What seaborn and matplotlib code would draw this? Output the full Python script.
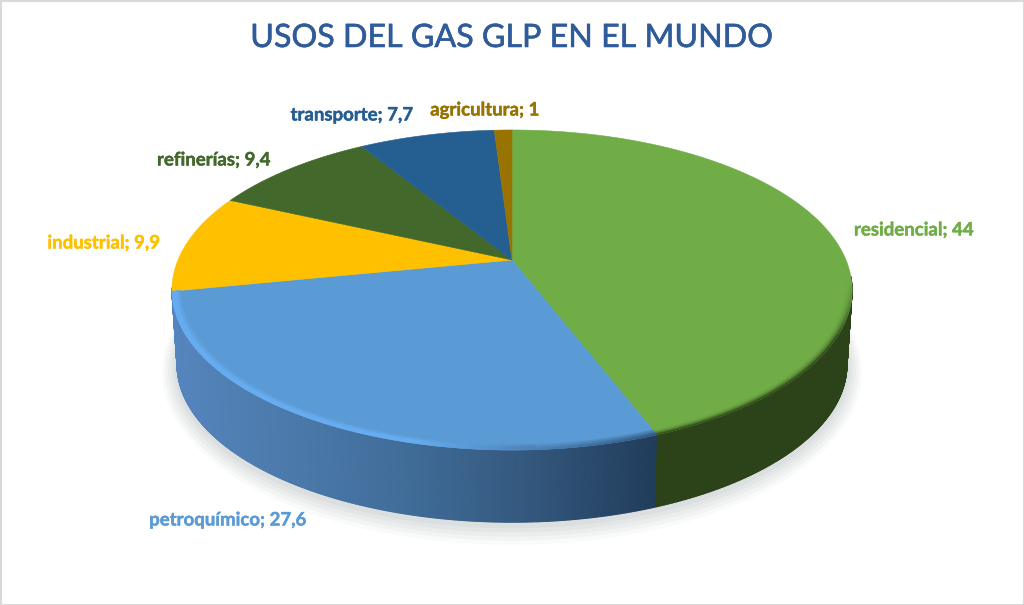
import numpy as np
import matplotlib
matplotlib.use("Agg")
import matplotlib.pyplot as plt
import matplotlib.patheffects as pe
from matplotlib.collections import PolyCollection
from matplotlib.colors import to_rgb
from matplotlib.patches import Rectangle
import seaborn as sns

title = "USOS DEL GAS GLP EN EL MUNDO"
categories = ["residencial", "petroquímico", "industrial", "refinerías", "transporte", "agricultura"]
values = [44, 27.6, 9.9, 9.4, 7.7, 1]
colors = ["#70ad47", "#5b9bd5", "#ffc000", "#43682b", "#255e91", "#997300"]

sns.set_theme(style="white")
plt.rcParams["font.family"] = ["Lato", "DejaVu Sans"]
palette = sns.color_palette(colors)

# Layout of the perspective disc, in figure pixels
CX, CY = 512, 260
BX, AY, K = 334.0, 154.4, 0.1875
DEPTH, BOTTOM_SCALE = 75, 0.985
label_xy = [(914, 230), (228, 520), (104, 243), (214, 160), (352, 115), (485, 110)]

fig = plt.figure(figsize=(10.24, 6.05), dpi=100, facecolor="white")
ax = fig.add_axes([0, 0, 1, 1])
ax.set_xlim(0, 1024)
ax.set_ylim(605, 0)
ax.axis("off")


def top(t, r=1.0):
    t = np.radians(t)
    u, v = r * np.sin(t), r * np.cos(t)
    w = 1 + K * v
    return CX + BX * u / w, CY - AY * v / w


def bottom(t):
    x, y = top(t)
    return CX + (x - CX) * BOTTOM_SCALE, CY + DEPTH + (y - CY) * BOTTOM_SCALE


frac = np.array(values) / np.sum(values)
edges = np.concatenate([[0], np.cumsum(frac)]) * 360
RES_END, PET_END = edges[1], edges[2]
tt = np.linspace(0, 360, 721)

# soft shadow under the disc
bx, by = bottom(tt)
for grow, alpha in [(15, .07), (12, .09), (9, .11), (6, .13), (3, .15)]:
    sx = CX + (bx - CX) * (1 + grow / 335)
    sy = (CY + DEPTH - 33) + (by - (CY + DEPTH - 33)) * (1 + grow / 160) + 2
    ax.fill(sx, sy, color="#b4bcbc", alpha=alpha, lw=0, zorder=1)

# side wall
wall_x = [172, 300, 400, 520, 652]
wall_c = ["#5585bd", "#4a78a8", "#406d9a", "#35597f", "#213d5c"]
wall_rgb = np.array([to_rgb(c) for c in wall_c])
ts = np.linspace(96, 260, 500)
polys, cols = [], []
for a, b in zip(ts[:-1], ts[1:]):
    xa, ya = top(a); xb, yb = top(b)
    xc, yc = bottom(b); xd, yd = bottom(a)
    polys.append([(xa, ya), (xb, yb), (xc, yc), (xd, yd)])
    m = (a + b) / 2
    if m < RES_END:
        cols.append(to_rgb("#2c4319"))
    else:
        xm = (xa + xb) / 2
        cols.append([np.interp(xm, wall_x, wall_rgb[:, i]) for i in range(3)])
ax.add_collection(PolyCollection(polys, facecolors=cols, edgecolors=cols, linewidths=.8, zorder=2))

# top faces
for i, c in enumerate(palette):
    t = np.linspace(edges[i], edges[i + 1], 200)
    x, y = top(t)
    ax.fill(np.r_[CX, x], np.r_[CY, y], facecolor=c, edgecolor=c, lw=.4, zorder=3)

# bevelled rim on the front edge
n_layers = 7
rs = np.linspace(0.975, 1.0, n_layers + 1)
green, blue = np.array(to_rgb(colors[0])), np.array(to_rgb(colors[1]))
green_edge = np.array(to_rgb("#2c4319"))
light, dull = np.array(to_rgb("#68aef2")), np.array(to_rgb("#2f5478"))
ts = np.linspace(98, PET_END, 420)
polys, cols = [], []
for k in range(n_layers):
    f = (k + 1) / n_layers
    for a, b in zip(ts[:-1], ts[1:]):
        xa, ya = top(a, rs[k]); xb, yb = top(b, rs[k])
        xc, yc = top(b, rs[k + 1]); xd, yd = top(a, rs[k + 1])
        polys.append([(xa, ya), (xb, yb), (xc, yc), (xd, yd)])
        m = (a + b) / 2
        if m < RES_END:
            fade = np.clip((m - 98) / 20, 0, 1) * (f ** 2.5)
            cols.append(green + (green_edge - green) * fade * .9)
        else:
            s = np.clip((m - RES_END) / 35, 0, 1)
            target = dull + (light - dull) * s
            g = min(1, f * (1.6 if s > .5 else 1))
            cols.append(blue + (target - blue) * g)
ax.add_collection(PolyCollection(polys, facecolors=cols, edgecolors=cols, linewidths=.3, zorder=4))

# text
ax.text(512, 38, title, color="#2f5b9b", fontsize=23.2, ha="center", va="center", zorder=6,
        path_effects=[pe.withStroke(linewidth=.4, foreground="#2f5b9b")])
for cat, val, c, (x, y) in zip(categories, values, colors, label_xy):
    txt = f"{cat}; {val:g}".replace(".", ",")
    ax.text(x, y, txt, color=c, fontsize=13.4, fontweight="bold", ha="center", va="center", zorder=6,
            path_effects=[pe.withStroke(linewidth=.3, foreground=c)])

# chart frame
ax.add_patch(Rectangle((0.5, 0.5), 1023, 604, fill=False, edgecolor="#d9d9d9", lw=1.5, zorder=7))

fig.savefig("out.png", dpi=100, facecolor="white")
